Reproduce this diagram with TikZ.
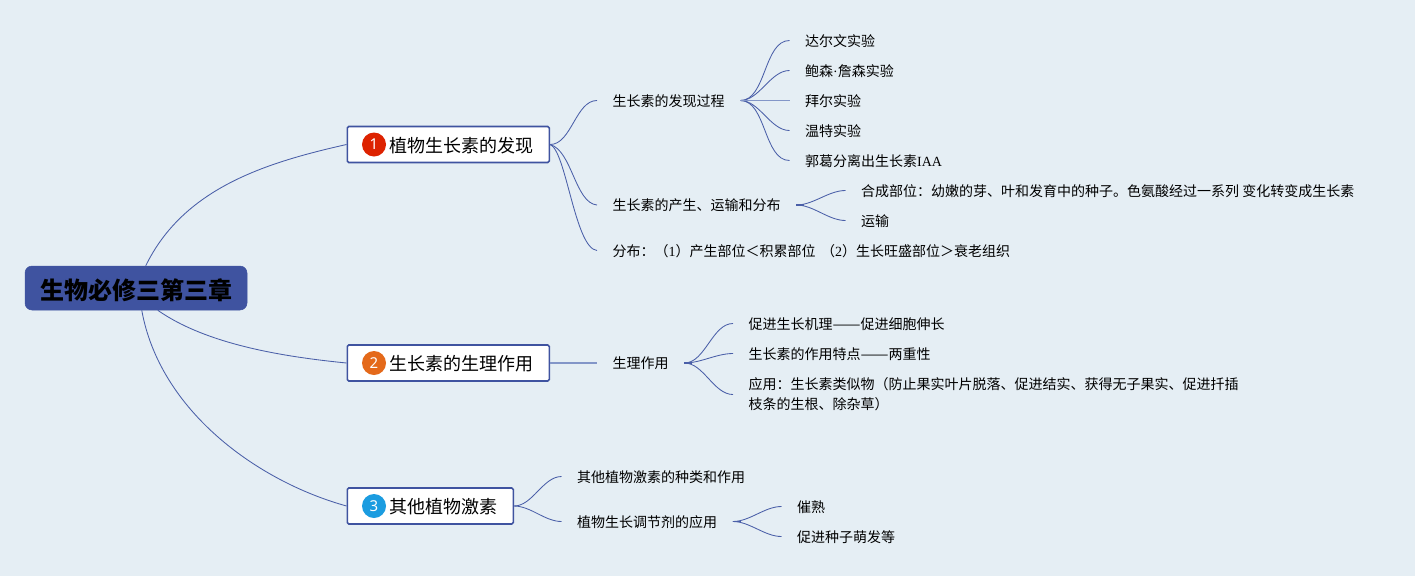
\documentclass[tikz,border=0pt]{standalone}
\usepackage{fontspec}
\usepackage{graphicx}
\setmainfont{Noto Sans CJK SC}
\newfontfamily\latf{Liberation Serif}
\newfontfamily\digf{Noto Sans}
\newcommand{\dashpair}{\makebox[28pt][s]{\resizebox{28pt}{\height}{——}}}
\usetikzlibrary{calc}
\definecolor{bgc}{HTML}{E5EEF4}
\definecolor{navy}{HTML}{3F53A0}
\definecolor{linec}{HTML}{4A5FA8}
\definecolor{linel}{HTML}{8396C8}
\definecolor{bred}{HTML}{DD2200}
\definecolor{borange}{HTML}{E4691A}
\definecolor{bblue}{HTML}{1B9CE0}
\tikzset{
  rootbox/.style={draw=navy,fill=navy,rounded corners=7pt,line width=.5pt,minimum width=222pt,minimum height=44pt,inner sep=0pt,text height=23pt,text depth=1pt,font=\fontsize{24}{28}\selectfont\bfseries,text=black},
  topic/.style={draw=navy,fill=white,line width=1.6pt,rounded corners=1.5pt,anchor=west,inner xsep=15.5pt,inner ysep=0pt,minimum height=36pt,text height=16.5pt,text depth=1.5pt,font=\fontsize{18}{22}\selectfont,text=black},
  badge/.style={circle,minimum size=24pt,inner sep=0pt,text=white,font=\digf\fontsize{15}{18}\selectfont},
  leafbase/.style={anchor=west,inner xsep=15.5pt,inner ysep=0pt,align=left,font=\fontsize{14}{20}\selectfont,text=black},
  leaf/.style={leafbase,text height=12.5pt,text depth=1.5pt},
  conn/.style={draw=linec,line width=.85pt},
  thin straight/.style={draw=linel,line width=1.6pt},
  stub/.style={draw=linec,line width=1.6pt},
  sbend/.style={out=0,in=180,looseness=.85}
}
\begin{document}
\begin{tikzpicture}[x=1pt,y=-1pt]
\useasboundingbox (0,0) rectangle (1415,576);
\fill[bgc] (0,0) rectangle (1415,576);

\node[rootbox] (root) at (136,288) {生物必修三第三章};

\node[topic] (t1) at (346.5,144.5) {\hspace*{27pt}植物生长素的发现};
\node[topic] (t2) at (346.5,363) {\hspace*{27pt}生长素的生理作用};
\node[topic] (t3) at (346.5,506) {\hspace*{27pt}其他植物激素};
\node[badge,fill=bred] (b1) at ($(t1.west)+(27.5,0)$) {1};
\node[badge,fill=borange] (b2) at ($(t2.west)+(27.5,0)$) {2};
\node[badge,fill=bblue] (b3) at ($(t3.west)+(27.5,0)$) {3};

\coordinate (r1) at ($(root.north west)+(121,0)$);
\coordinate (r2) at ($(root.south west)+(133,0)$);
\coordinate (r3) at ($(root.south west)+(117,0)$);
\draw[conn] (r1) .. controls +(38,-78) and +(-80,18) .. (t1.west);
\draw[conn] (r2) .. controls +(50,35) and +(-60,-6) .. (t2.west);
\draw[conn] (r3) .. controls +(18,100) and +(-90,-25) .. (t3.west);

% branch 1
\node[leaf] (a1) at (597,100.5) {生长素的发现过程};
\node[leaf] (a2) at (597,205) {生长素的产生、运输和分布};
\node[leaf] (a3) at (597,250.5) {分布：（{\latf 1}）产生部位＜积累部位 \,（{\latf 2}）生长旺盛部位＞衰老组织};
\node[leaf] (c1) at (789.5,40.5) {达尔文实验};
\node[leaf] (c2) at (789.5,70.5) {鲍森{\latf ·}詹森实验};
\node[leaf] (c3) at (789.5,100.5) {拜尔实验};
\node[leaf] (c4) at (789.5,130.5) {温特实验};
\node[leaf] (c5) at (789.5,160.5) {郭葛分离出生长素{\latf IAA}};
\node[leaf] (d1) at (845.5,190.5) {合成部位：幼嫩的芽、叶和发育中的种子。色氨酸经过一系列 变化转变成生长素};
\node[leaf] (d2) at (845.5,220.5) {运输};
\draw[conn] (t1.east) to[sbend] (a1.west);
\draw[conn] (t1.east) .. controls +(22,6) and +(-22,-2) .. (a2.west);
\draw[conn] (t1.east) .. controls +(16,6) and +(-22,-2) .. (a3.west);
\draw[stub] (a1.east) -- +(8,0);
\foreach \t in {c1,c2,c4,c5} \draw[conn] (a1.east) to[sbend] (\t.west);
\draw[thin straight] (a1.east) -- (c3.west);
\draw[stub] (a2.east) -- +(8,0);
\foreach \t in {d1,d2} \draw[conn] (a2.east) to[sbend] (\t.west);

% branch 2
\node[leaf] (e1) at (597,363) {生理作用};
\node[leaf] (f1) at (733,323.5) {促进生长机理\dashpair 促进细胞伸长};
\node[leaf] (f2) at (733,353.5) {生长素的作用特点\dashpair 两重性};
\node[leafbase] (f3) at (733,394.5) {应用：生长素类似物（防止果实叶片脱落、促进结实、获得无子果实、促进扦插\\枝条的生根、除杂草）};
\draw[thin straight] (t2.east) -- (e1.west);
\draw[stub] (e1.east) -- +(8,0);
\foreach \t in {f1,f2,f3} \draw[conn] (e1.east) to[sbend] (\t.west);

% branch 3
\node[leaf] (g1) at (561.5,476.5) {其他植物激素的种类和作用};
\node[leaf] (g2) at (561.5,521.5) {植物生长调节剂的应用};
\node[leaf] (h1) at (781.5,506.5) {催熟};
\node[leaf] (h2) at (781.5,536.5) {促进种子萌发等};
\draw[conn] (t3.east) to[sbend] (g1.west);
\draw[conn] (t3.east) to[sbend] (g2.west);
\draw[stub] (g2.east) -- +(8,0);
\foreach \t in {h1,h2} \draw[conn] (g2.east) to[sbend] (\t.west);
\end{tikzpicture}
\end{document}
